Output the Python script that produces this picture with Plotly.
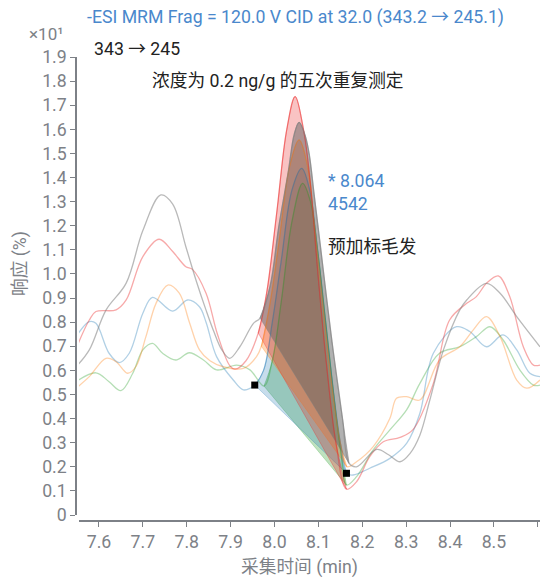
import plotly.graph_objects as go

# ---------------- data ----------------
red_x = [7.548, 7.578, 7.593, 7.639, 7.662, 7.700, 7.737, 7.768, 7.798, 7.813, 7.844, 7.870, 7.898, 7.910, 7.935,
         7.963, 7.982, 8.005, 8.028, 8.047, 8.066, 8.081, 8.100, 8.120, 8.140, 8.164,
         8.187, 8.217, 8.248, 8.286, 8.316, 8.362, 8.399, 8.438, 8.460, 8.483, 8.510, 8.536, 8.567, 8.590, 8.605]
red_y = [0.692, 0.809, 0.844, 0.851, 0.892, 1.072, 1.144, 1.093, 1.030, 1.019, 0.920, 0.750, 0.620, 0.605, 0.640,
         0.755, 0.920, 1.253, 1.600, 1.736, 1.600, 1.390, 0.980, 0.600, 0.300, 0.107,
         0.138, 0.242, 0.304, 0.322, 0.355, 0.546, 0.809, 0.878, 0.906, 0.961, 0.992, 0.906, 0.698, 0.622, 0.622]

gray_x = [7.548, 7.578, 7.616, 7.662, 7.700, 7.741, 7.768, 7.798, 7.821, 7.844, 7.862, 7.880, 7.898, 7.921, 7.952,
          7.967, 7.990, 8.010, 8.031, 8.045, 8.056, 8.068, 8.078, 8.091, 8.105, 8.131, 8.155, 8.170,
          8.187, 8.233, 8.260, 8.286, 8.309, 8.331, 8.354, 8.385, 8.422, 8.438, 8.483, 8.514, 8.552, 8.605]
gray_y = [0.615, 0.685, 0.850, 0.962, 1.180, 1.328, 1.290, 1.113, 0.975, 0.850, 0.760, 0.685, 0.650, 0.698, 0.795,
          0.817, 0.950, 1.200, 1.420, 1.580, 1.629, 1.585, 1.510, 1.320, 1.110, 0.720, 0.400, 0.214,
          0.200, 0.272, 0.250, 0.221, 0.256, 0.330, 0.477, 0.685, 0.850, 0.892, 0.961, 0.920, 0.823, 0.698]

orange_x = [7.548, 7.578, 7.616, 7.639, 7.665, 7.684, 7.707, 7.730, 7.757, 7.783, 7.806, 7.829, 7.853, 7.883, 7.929, 7.959,
            7.970, 7.990, 8.010, 8.035, 8.056, 8.075, 8.090, 8.110, 8.130, 8.150, 8.165,
            8.187, 8.225, 8.263, 8.278, 8.301, 8.331, 8.376, 8.422, 8.453, 8.483, 8.514, 8.552, 8.575, 8.605]
orange_y = [0.526, 0.574, 0.650, 0.636, 0.588, 0.615, 0.740, 0.878, 0.954, 0.920, 0.800, 0.685, 0.640, 0.615, 0.608, 0.657,
            0.700, 0.880, 1.130, 1.450, 1.556, 1.450, 1.220, 0.880, 0.550, 0.300, 0.200,
            0.221, 0.284, 0.401, 0.484, 0.491, 0.477, 0.643, 0.698, 0.768, 0.823, 0.740, 0.560, 0.526, 0.560]

blue_x = [7.548, 7.578, 7.593, 7.623, 7.646, 7.669, 7.700, 7.722, 7.768, 7.802, 7.829, 7.844, 7.868, 7.906, 7.929,
          7.955, 7.975, 7.995, 8.015, 8.040, 8.062, 8.080, 8.095, 8.115, 8.135, 8.150, 8.164,
          8.179, 8.217, 8.263, 8.301, 8.331, 8.362, 8.415, 8.445, 8.483, 8.521, 8.552, 8.582, 8.605]
blue_y = [0.740, 0.802, 0.795, 0.671, 0.632, 0.671, 0.837, 0.903, 0.846, 0.892, 0.864, 0.800, 0.657, 0.560, 0.519,
          0.539, 0.600, 0.800, 1.050, 1.350, 1.438, 1.350, 1.150, 0.820, 0.500, 0.300, 0.173,
          0.166, 0.194, 0.235, 0.297, 0.420, 0.671, 0.781, 0.761, 0.698, 0.747, 0.685, 0.588, 0.574]

green_x = [7.548, 7.593, 7.623, 7.650, 7.677, 7.700, 7.722, 7.745, 7.775, 7.806, 7.838, 7.868, 7.914, 7.944,
           7.976, 7.995, 8.015, 8.040, 8.064, 8.082, 8.098, 8.118, 8.138, 8.152, 8.164,
           8.187, 8.225, 8.263, 8.301, 8.331, 8.376, 8.422, 8.460, 8.491, 8.521, 8.559, 8.590, 8.605]
green_y = [0.553, 0.590, 0.553, 0.516, 0.588, 0.685, 0.712, 0.671, 0.643, 0.673, 0.643, 0.602, 0.622, 0.602,
           0.535, 0.640, 0.880, 1.220, 1.376, 1.300, 1.100, 0.780, 0.450, 0.250, 0.124,
           0.159, 0.270, 0.353, 0.436, 0.545, 0.671, 0.698, 0.740, 0.781, 0.726, 0.602, 0.539, 0.539]

# integration window (start, end) of each replicate's peak
red_peak = (7.963, 8.164)
gray_peak = (7.967, 8.170)
orange_peak = (7.970, 8.165)
blue_peak = (7.955, 8.164)
green_peak = (7.976, 8.164)

x_ticks = [7.6, 7.7, 7.8, 7.9, 8.0, 8.1, 8.2, 8.3, 8.4, 8.5, 8.6]
x_tick_text = ["7.6", "7.7", "7.8", "7.9", "8.0", "8.1", "8.2", "8.3", "8.4", "8.5", ""]
y_ticks = [0, 0.1, 0.2, 0.3, 0.4, 0.5, 0.6, 0.7, 0.8, 0.9, 1.0, 1.1, 1.2, 1.3, 1.4, 1.5, 1.6, 1.7, 1.8, 1.9]
y_tick_text = ["0", "0.1", "0.2", "0.3", "0.4", "0.5", "0.6", "0.7", "0.8", "0.9", "1.0",
               "1.1", "1.2", "1.3", "1.4", "1.5", "1.6", "1.7", "1.8", "1.9"]

# ---------------- style ----------------
W, H = 540, 577
L, R, T, B = 76, 0, 57, 56
PW, PH = W - L - R, H - T - B
FONT = "Roboto, 'Noto Sans CJK SC', sans-serif"
FS = 17.7
AX = "#7d8187"
BLUE_TXT = "#4a88cc"

# drawing order of the filled peaks (bottom to top): name, x, y, window, line rgb, line alpha, fill rgb, fill alpha
series = [
    ("green", green_x, green_y, green_peak, (44, 160, 44), 0.35, (44, 160, 44), 0.3),
    ("blue", blue_x, blue_y, blue_peak, (31, 119, 180), 0.35, (31, 119, 180), 0.25),
    ("orange", orange_x, orange_y, orange_peak, (255, 127, 14), 0.35, (255, 127, 14), 0.3),
    ("red", red_x, red_y, red_peak, (235, 40, 40), 0.4, (235, 40, 40), 0.28),
    ("gray", gray_x, gray_y, gray_peak, (127, 127, 127), 0.55, (100, 100, 100), 0.5),
]

def rgba(c, a):
    return f"rgba({c[0]},{c[1]},{c[2]},{a})"

def px(x):
    return (x - L) / PW

def py(y):
    return (H - B - y) / PH

fig = go.Figure()

# filled integrated peaks
for name, xs, ys, (s, e), lc, la, fc, fa in series:
    i0 = xs.index(s)
    i1 = xs.index(e)
    fig.add_trace(go.Scatter(x=[xs[i0], xs[i1]], y=[ys[i0], ys[i1]], mode="lines",
                             line=dict(color=rgba(lc, la * 0.8), width=1), showlegend=False,
                             hoverinfo="skip"))
    fig.add_trace(go.Scatter(x=xs[i0:i1 + 1], y=ys[i0:i1 + 1], mode="lines",
                             line=dict(color=rgba(lc, la), width=1, shape="spline"),
                             fill="tonexty", fillcolor=rgba(fc, fa), showlegend=False,
                             hoverinfo="skip"))

# chromatogram lines
for name, xs, ys, (s, e), lc, la, fc, fa in series:
    fig.add_trace(go.Scatter(x=xs, y=ys, mode="lines", name=name,
                             line=dict(color=rgba(lc, la), width=1.3, shape="spline"),
                             showlegend=False))

# integration markers on the blue replicate
bi0, bi1 = blue_x.index(blue_peak[0]), blue_x.index(blue_peak[1])
fig.add_trace(go.Scatter(x=[blue_x[bi0], blue_x[bi1]], y=[blue_y[bi0], blue_y[bi1]], mode="markers",
                         marker=dict(symbol="square", size=7, color="black"), showlegend=False))

ann = [
    dict(text="-ESI MRM Frag = 120.0 V CID at 32.0 (343.2 → 245.1)", x=px(85), y=py(18),
         color=BLUE_TXT, size=FS),
    dict(text="×10¹", x=px(27), y=py(34), color=AX, size=17),
    dict(text="343 → 245", x=px(92), y=py(49), color="#222222", size=FS),
    dict(text="浓度为 0.2 ng/g 的五次重复测定", x=px(150), y=py(81), color="#222222", size=FS),
    dict(text="* 8.064", x=px(326), y=py(181), color=BLUE_TXT, size=FS),
    dict(text="4542", x=px(326), y=py(204), color=BLUE_TXT, size=FS),
    dict(text="预加标毛发", x=px(326), y=py(247), color="#222222", size=FS),
]
annotations = [dict(text=a["text"], x=a["x"], y=a["y"], xref="paper", yref="paper",
                    xanchor="left", yanchor="middle", showarrow=False,
                    font=dict(family=FONT, size=a["size"], color=a["color"])) for a in ann]
annotations.append(dict(text="响应 (%)", x=px(20), y=py(264), xref="paper", yref="paper",
                        xanchor="center", yanchor="middle", showarrow=False, textangle=-90,
                        font=dict(family=FONT, size=FS, color=AX)))
annotations.append(dict(text="采集时间 (min)", x=px(299), y=py(567), xref="paper", yref="paper",
                        xanchor="center", yanchor="middle", showarrow=False,
                        font=dict(family=FONT, size=FS, color=AX)))

fig.update_layout(
    width=W, height=H,
    margin=dict(l=L, r=R, t=T, b=B, pad=0),
    paper_bgcolor="white", plot_bgcolor="white",
    font=dict(family=FONT, size=FS, color=AX),
    annotations=annotations,
    xaxis=dict(range=[7.5545, 8.605], domain=[3 / PW, 1], anchor="free", position=0,
               tickvals=x_ticks, ticktext=x_tick_text, ticks="outside", ticklen=5,
               tickcolor=AX, showline=True, linecolor=AX, linewidth=1.5, showgrid=False,
               zeroline=False, tickfont=dict(family=FONT, size=FS, color=AX)),
    yaxis=dict(range=[0, 1.9], domain=[6 / PH, 1], anchor="free", position=0,
               tickvals=y_ticks, ticktext=y_tick_text, ticks="outside", ticklen=5,
               tickcolor=AX, showline=True, linecolor=AX, linewidth=1.5, showgrid=False,
               zeroline=False, tickfont=dict(family=FONT, size=FS, color=AX)),
)

fig.write_html("out.html")
